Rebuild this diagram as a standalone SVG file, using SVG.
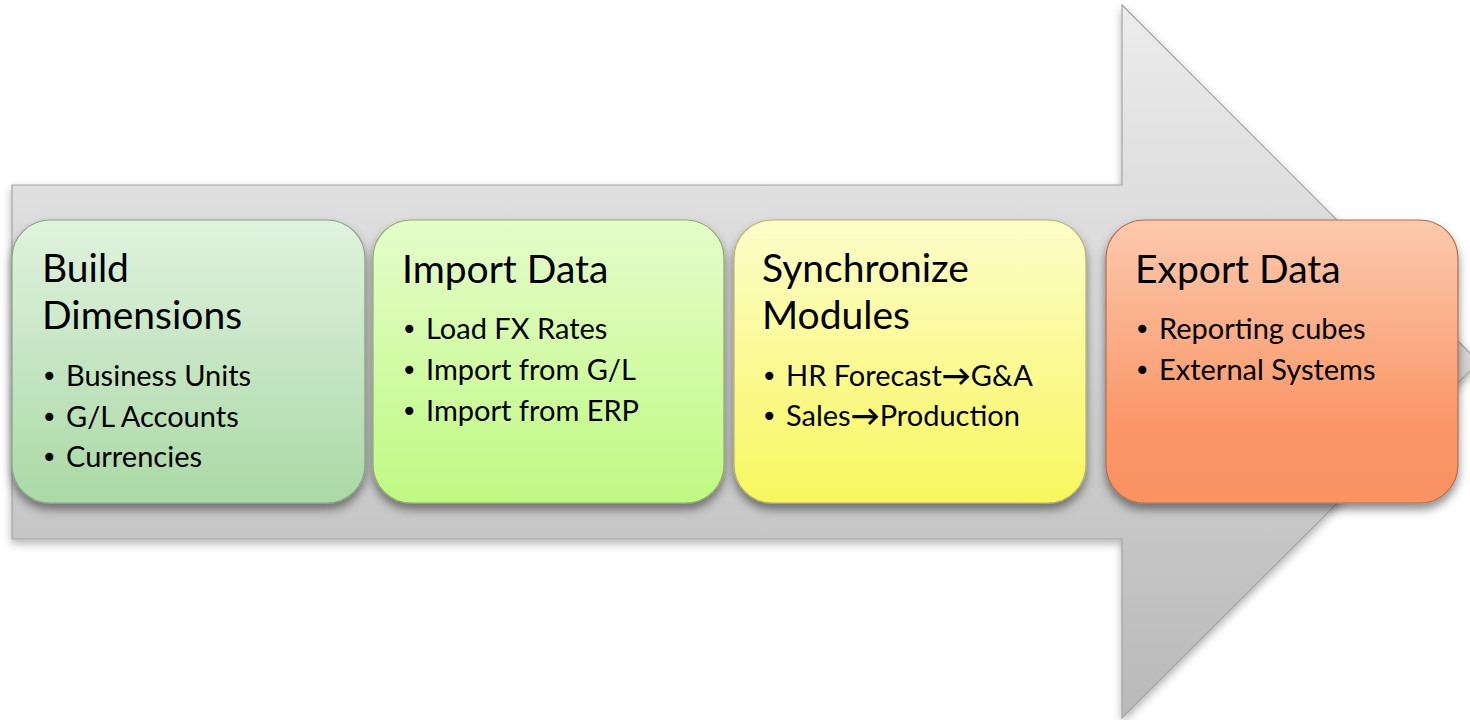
<svg xmlns="http://www.w3.org/2000/svg" width="1470" height="720" viewBox="0 0 1470 720">
<defs>
<linearGradient id="gArrow" gradientUnits="userSpaceOnUse" x1="0" y1="5" x2="0" y2="718">
<stop offset="0" stop-color="#ececec"/><stop offset="1" stop-color="#b9b9b9"/>
</linearGradient>
<linearGradient id="g1" x1="0" y1="0" x2="0" y2="1"><stop offset="0" stop-color="#e0f2de"/><stop offset="1" stop-color="#aad9a6"/></linearGradient>
<linearGradient id="g2" x1="0" y1="0" x2="0" y2="1"><stop offset="0" stop-color="#e5fdca"/><stop offset="1" stop-color="#bff982"/></linearGradient>
<linearGradient id="g3" x1="0" y1="0" x2="0" y2="1"><stop offset="0" stop-color="#fdfdca"/><stop offset="1" stop-color="#f8f75e"/></linearGradient>
<linearGradient id="g4" x1="0" y1="0" x2="0" y2="1"><stop offset="0" stop-color="#fcc9ad"/><stop offset="0.75" stop-color="#fa9566"/><stop offset="1" stop-color="#fa9262"/></linearGradient>
<filter id="sh" x="-10%" y="-10%" width="120%" height="130%">
<feDropShadow dx="0" dy="6" stdDeviation="5" flood-color="#000" flood-opacity="0.45"/>
</filter>
<filter id="shA" x="-5%" y="-5%" width="110%" height="115%">
<feDropShadow dx="0" dy="4" stdDeviation="4" flood-color="#000" flood-opacity="0.3"/>
</filter>
</defs>
<style>
.box{stroke-width:1.2}
.t{font-family:Lato,"Liberation Sans",sans-serif;fill:#000}
.h{font-size:39px}
.b{font-size:29px}
.d{font-family:"DejaVu Sans",sans-serif;font-size:28px;fill:#000}
</style>
<rect width="1470" height="720" fill="#ffffff"/>
<g id="arrow">
<path d="M12,185 H1122 V5 L1479,362 L1122,718 V539 H12 Z" fill="url(#gArrow)" stroke="#a3a3a3" stroke-width="1.2" filter="url(#shA)"/>
</g>
<g id="connectors"></g>
<g id="node-build">
<rect class="box" x="12" y="220" width="353" height="283" rx="38" fill="url(#g1)" stroke="#86a783" filter="url(#sh)"/>
<text class="t h" x="42" y="282">Build</text>
<text class="t h" x="42" y="329">Dimensions</text>
<text class="d" x="41" y="386">•</text><text class="t b" x="66" y="386">Business Units</text>
<text class="d" x="41" y="427">•</text><text class="t b" x="66" y="427">G/L Accounts</text>
<text class="d" x="41" y="467">•</text><text class="t b" x="66" y="467">Currencies</text>
</g>
<g id="node-import">
<rect class="box" x="373" y="220" width="351" height="283" rx="38" fill="url(#g2)" stroke="#8fad6a" filter="url(#sh)"/>
<text class="t h" x="402" y="283">Import Data</text>
<text class="d" x="401" y="339">•</text><text class="t b" x="426" y="339">Load FX Rates</text>
<text class="d" x="401" y="380">•</text><text class="t b" x="426" y="380">Import from G/L</text>
<text class="d" x="401" y="421">•</text><text class="t b" x="426" y="421">Import from ERP</text>
</g>
<g id="node-sync">
<rect class="box" x="734" y="220" width="352" height="283" rx="38" fill="url(#g3)" stroke="#b3b36a" filter="url(#sh)"/>
<text class="t h" x="762" y="282">Synchronize</text>
<text class="t h" x="762" y="329">Modules</text>
<text class="d" x="761" y="386">•</text><text class="t b" x="786" y="386">HR Forecast<tspan font-weight="bold">→</tspan>G&amp;A</text>
<text class="d" x="761" y="426">•</text><text class="t b" x="786" y="426">Sales<tspan font-weight="bold">→</tspan>Production</text>
</g>
<g id="node-export">
<rect class="box" x="1106" y="220" width="352" height="283" rx="38" fill="url(#g4)" stroke="#b06d50" filter="url(#sh)"/>
<text class="t h" x="1135" y="283">Export Data</text>
<text class="d" x="1134" y="339">•</text><text class="t b" x="1159" y="339">Reporting cubes</text>
<text class="d" x="1134" y="380">•</text><text class="t b" x="1159" y="380">External Systems</text>
</g>
</svg>
